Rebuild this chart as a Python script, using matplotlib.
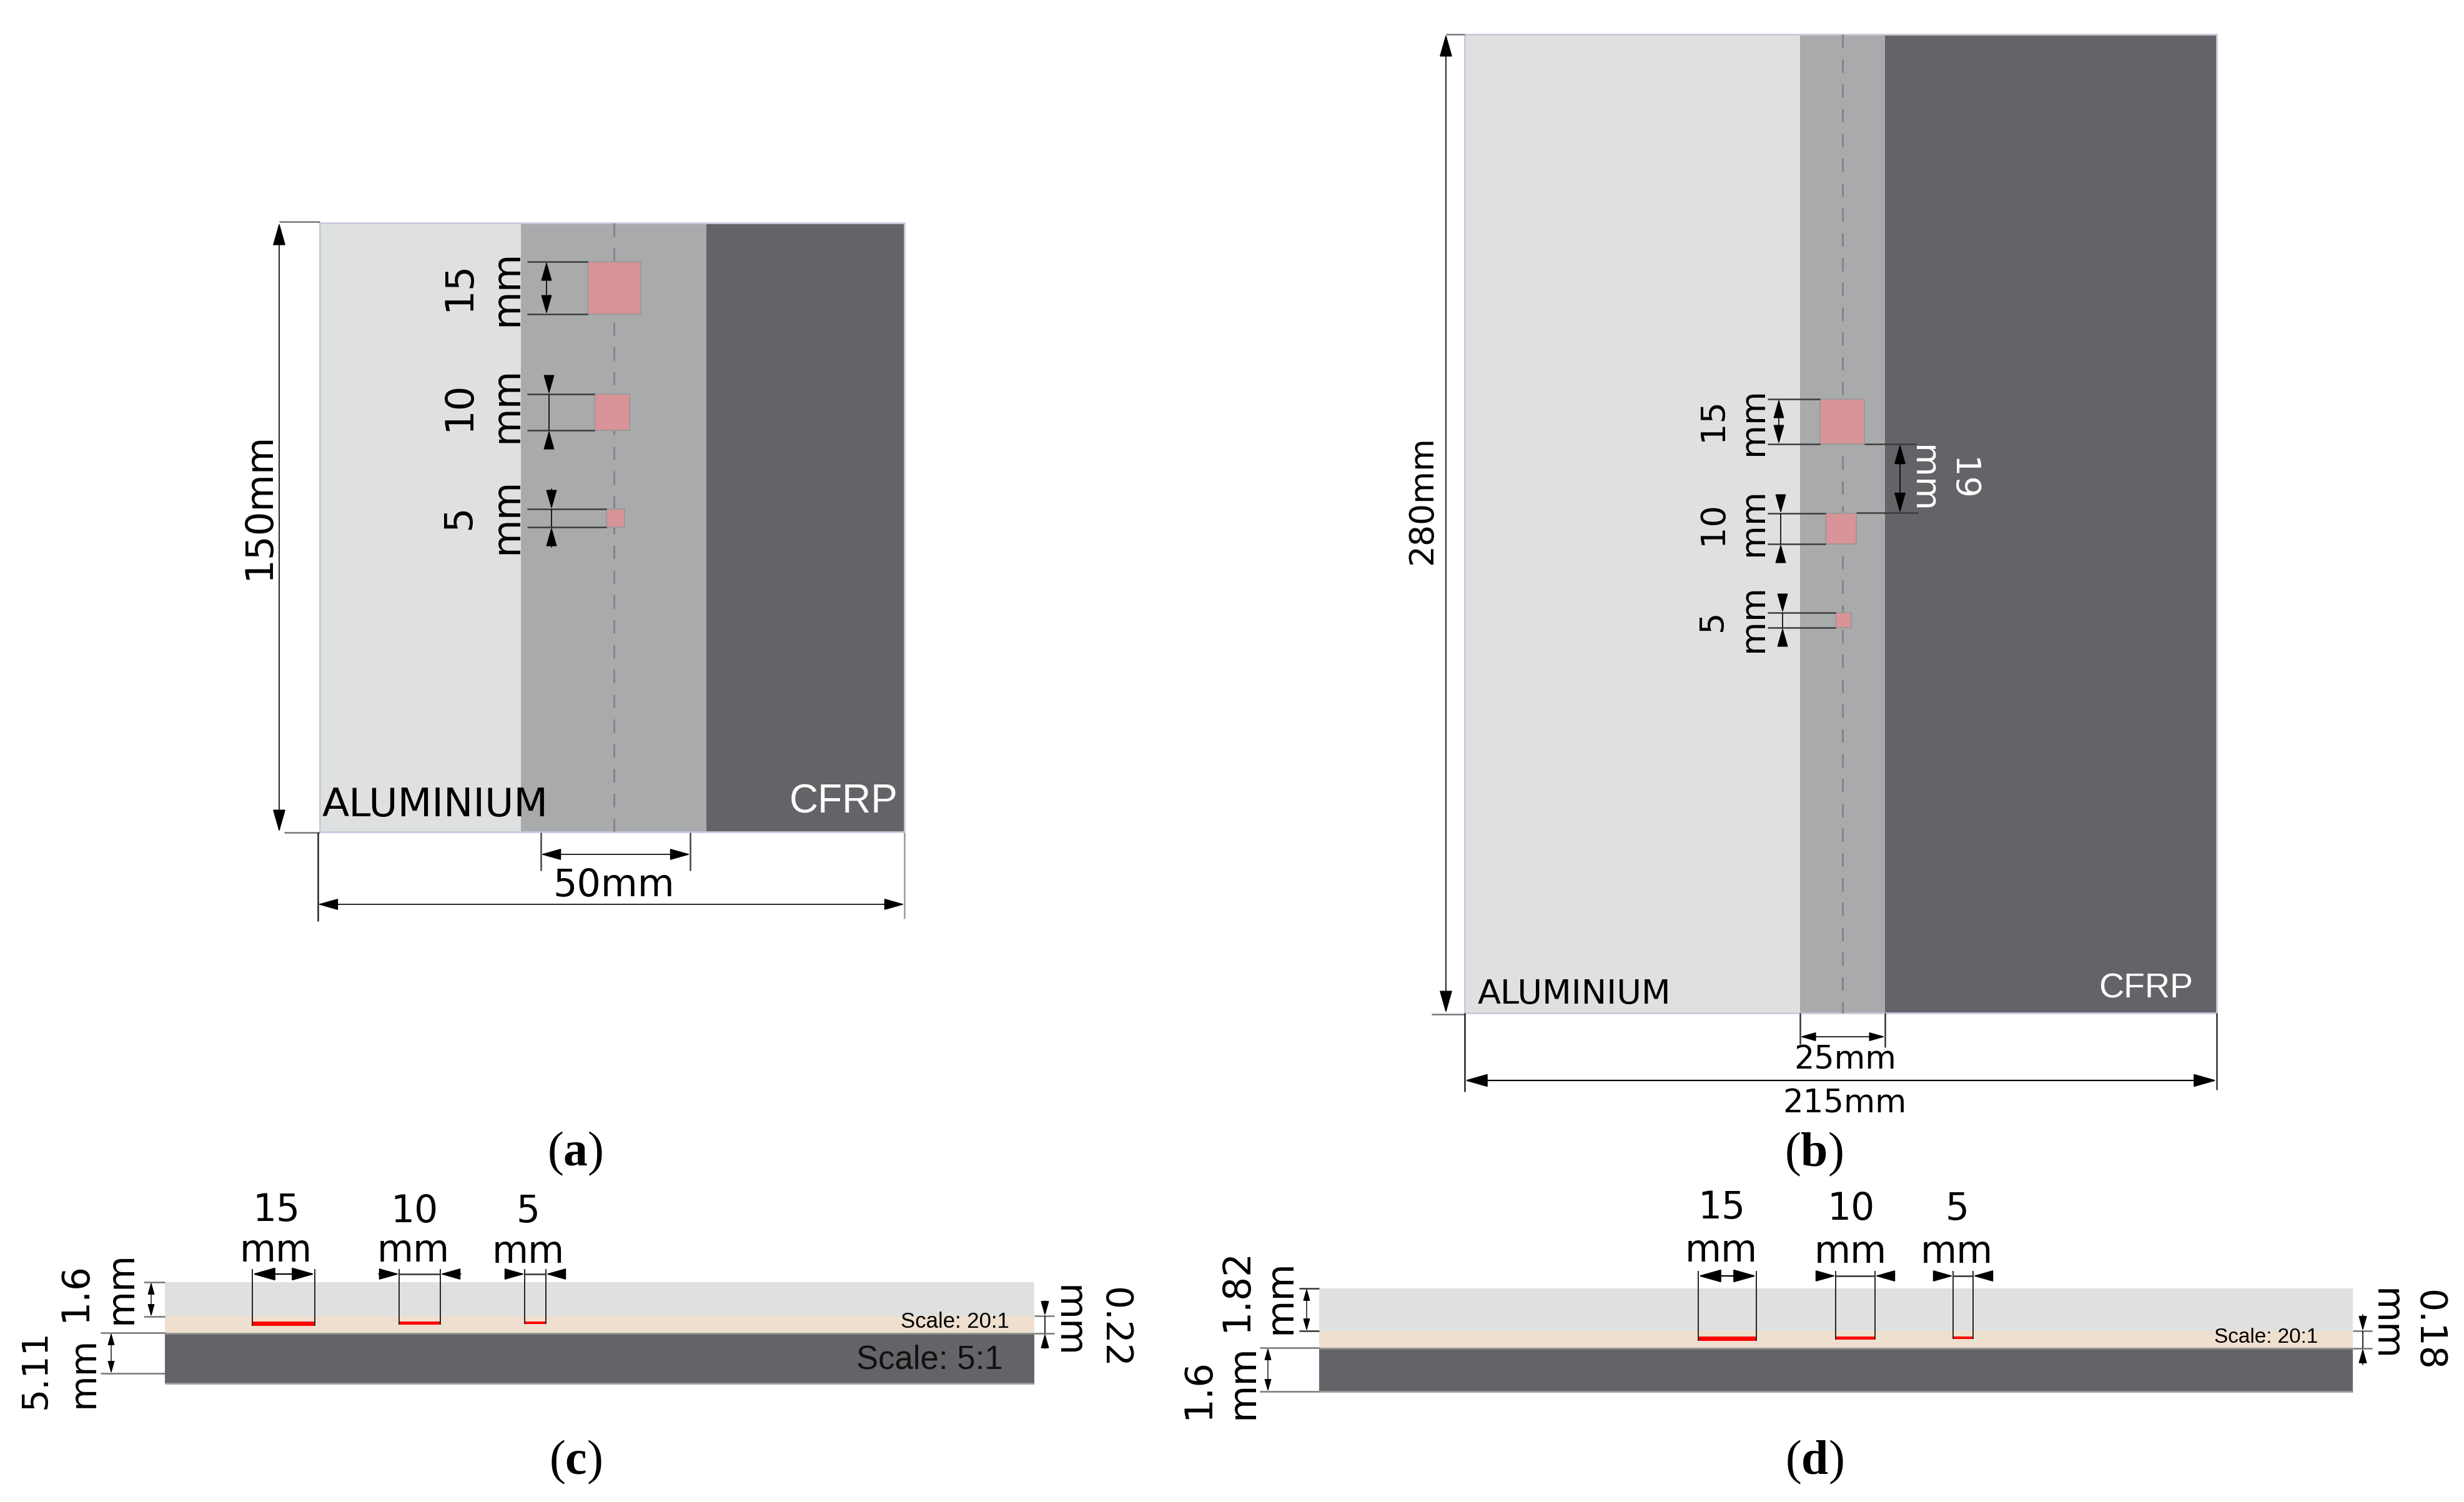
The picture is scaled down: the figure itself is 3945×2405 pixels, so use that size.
import matplotlib
matplotlib.use("Agg")
import matplotlib.pyplot as plt
from matplotlib.patches import Rectangle

AL = "#dfe1e0"
BOND = "#a9aaac"
CFRP = "#636467"
ADH = "#efdfcf"
SQUARE = "#d89498"
EDGE = "#c9c9de"
BOTH = "<|-|>,head_length=0.6,head_width=0.17"
ONE = "-|>,head_length=0.6,head_width=0.17"

# layer edges in pixels (x: aluminium, bond start, bond end, right)
a_edges = [512, 834, 1131, 1448]
a_span = [357, 1332]
a_squares = [(941, 419, 1026, 503), (952, 631, 1008, 689), (971, 815, 1000, 844)]
a_arrow_x = [875, 879, 883]
a_tick_x = 844
b_edges = [2345, 2882, 3018, 3549]
b_span = [55, 1622]
b_squares = [(2914, 639, 2985, 711), (2923, 822, 2972, 871), (2939, 981, 2964, 1005)]
b_arrow_x = [2848, 2851, 2854]
b_tick_x = 2830

size_labels = ["15", "10", "5"]
a_label_y = [458, 650, 828]
a_mm_y = [461, 648, 826]
b_label_y = [671, 838, 994]
b_mm_y = [675, 836, 990]

# cross sections: left, right, aluminium top, aluminium bottom, adhesive bottom, cfrp bottom
c_layers = [264, 1656, 2053, 2107, 2135, 2215]
d_layers = [2112, 3767, 2063, 2131, 2159, 2228]
c_notches = [(404, 504), (639, 705), (840, 874)]
d_notches = [(2719, 2812), (2939, 3002), (3127, 3159)]
c_notch_y = [2040, 2116, 2123, 2121, 2120]
d_notch_y = [2043, 2140, 2147, 2145, 2144]
c_label_pos = [(442, 1938, 442, 2003), (664, 1940, 662, 2004), (845, 1940, 846, 2006)]
d_label_pos = [(2756, 1934, 2756, 2004), (2963, 1936, 2963, 2005), (3133, 1937, 3133, 2006)]

panel_letters = ["a", "b", "c", "d"]
panel_x = [921, 2904, 921, 2905]
panel_y = [1847, 1848, 2341, 2341]

plt.rcParams["mathtext.fontset"] = "custom"
plt.rcParams["mathtext.bf"] = "Liberation Serif:bold"
plt.rcParams["mathtext.rm"] = "Liberation Serif"

fig = plt.figure(figsize=(39.45, 24.05), dpi=100, facecolor="white")
ax = fig.add_axes([0, 0, 1, 1])
ax.set_xlim(0, 3945)
ax.set_ylim(2405, 0)
ax.axis("off")


def band(x0, x1, y0, y1, color, z=1, edge="none"):
    ax.add_patch(Rectangle((x0, y0), x1 - x0, y1 - y0, facecolor=color, edgecolor=edge, lw=1.5, zorder=z))


def line(x0, y0, x1, y1, color="#3c3c3c", lw=1.8, z=4):
    ax.plot([x0, x1], [y0, y1], color=color, lw=lw, zorder=z, solid_capstyle="butt")


def arrow(x0, y0, x1, y1, style=ONE, size=30, lw=1.2, color="black"):
    # from (x0, y0) to the tip at (x1, y1)
    ax.annotate("", xy=(x1, y1), xytext=(x0, y0), zorder=5,
                arrowprops=dict(arrowstyle=style, mutation_scale=size, lw=lw, color=color,
                                shrinkA=0, shrinkB=0))


def label(x, y, s, size=38, rot=0, color="black", family="DejaVu Sans", z=6):
    ax.text(x, y, s, fontsize=size, rotation=rot, color=color, family=family,
            ha="center", va="center", zorder=z)


def outer_arrows_y(x, y0, y1, reach, size=30):
    line(x, y0, x, y1, color="black", lw=1.2)
    arrow(x, y0 - reach, x, y0, size=size)
    arrow(x, y1 + reach, x, y1, size=size)


def outer_arrows_x(y, x0, x1, reach, size=30):
    line(x0, y, x1, y, color="#333333")
    arrow(x0 - reach, y, x0, y, size=size)
    arrow(x1 + reach, y, x1, y, size=size)


def plan_view(edges, span, squares, arrow_x, tick_x, reach, size):
    top, bottom = span
    band(edges[0], edges[1], top, bottom, AL)
    band(edges[1], edges[2], top, bottom, BOND)
    band(edges[2], edges[3], top, bottom, CFRP)
    ax.plot([edges[0], edges[3], edges[3], edges[0], edges[0]], [top, top, bottom, bottom, top],
            color=EDGE, lw=2, zorder=2)
    centre = (edges[1] + edges[2]) / 2
    ax.plot([centre, centre], [top, bottom], color="#85868a", lw=2.2, dashes=(7, 6), zorder=2)
    for i, (x0, y0, x1, y1) in enumerate(squares):
        band(x0, x1, y0, y1, SQUARE, z=3, edge="#a0989a")
        line(tick_x, y0, x0, y0)
        line(tick_x, y1, x0, y1)
        if i == 0:
            arrow(arrow_x[i], y0, arrow_x[i], y1, style=BOTH, size=size)
        else:
            outer_arrows_y(arrow_x[i], y0, y1, reach[i], size=size)


def section(layers, notches, notch_y, label_pos, reach, size=43):
    left, right, al_top, al_bot, adh_bot, cf_bot = layers
    band(left, right, al_top, al_bot, AL)
    band(left, right, al_bot, adh_bot, ADH)
    band(left, right, adh_bot, cf_bot, CFRP)
    line(left, adh_bot, right, adh_bot, color="#8f9092", lw=2, z=2)
    line(left, cf_bot, right, cf_bot, color="#9a9b9d", lw=2, z=2)
    tick_top, red_top = notch_y[0], notch_y[1]
    for i, (x0, x1) in enumerate(notches):
        red_bot = notch_y[2 + i]
        band(x0, x1, red_top, red_bot, "#ff0000", z=3)
        line(x0, tick_top - 8, x0, red_bot, color="#222222", lw=1.4)
        line(x1, tick_top - 8, x1, red_bot, color="#222222", lw=1.4)
        if i == 0:
            arrow(x0, tick_top, x1, tick_top, style=BOTH, size=38, lw=1.6)
        else:
            outer_arrows_x(tick_top, x0, x1, reach[i], size=34)
        label(label_pos[i][0], label_pos[i][1], size_labels[i], size=size)
        label(label_pos[i][2], label_pos[i][3], "mm", size=size)


# panel a
plan_view(a_edges, a_span, a_squares, a_arrow_x, a_tick_x, [0, 24, 32], 32)
for yl, ym, s in zip(a_label_y, a_mm_y, size_labels):
    label(735, yl, s, size=45, rot=90)
    label(811, ym, "mm", size=45, rot=90)
arrow(447, 357, 447, 1332, style=BOTH, size=38)
line(447, 355, 512, 355, color="#777777")
line(455, 1333, 512, 1333, color="#777777")
label(415, 810, "150mm", size=44, rot=90)
ax.text(516, 1307, "ALUMINIUM", fontsize=45.5, family="DejaVu Sans", ha="left", va="baseline", zorder=6)
ax.text(1438, 1302, "CFRP", fontsize=46, family="Liberation Sans", color="white", ha="right", va="baseline", zorder=6)
line(866, 1333, 866, 1394, color="#444444")
line(1105, 1333, 1105, 1394, color="#444444")
arrow(866, 1368, 1105, 1368, style=BOTH, size=34)
label(983, 1418, "50mm", size=43.5)
line(509, 1333, 509, 1475, color="#222222")
line(1448, 1333, 1448, 1471, color="#999999")
arrow(509, 1448, 1448, 1448, style=BOTH, size=34)

# panel b
plan_view(b_edges, b_span, b_squares, b_arrow_x, b_tick_x, [0, 22, 26], 32)
for yl, ym, s in zip(b_label_y, b_mm_y, size_labels):
    label(2742, yl, s, size=39, rot=90)
    label(2807, ym, "mm", size=40, rot=90)
line(2985, 711, 3068, 711)
line(2972, 821, 3071, 821)
arrow(3042, 711, 3042, 821, style=BOTH, size=34)
label(3141, 767, "19", size=39, rot=270, color="white")
label(3078, 767, "mm", size=40, rot=270, color="white")
arrow(2315, 55, 2315, 1622, style=BOTH, size=38)
line(2315, 55, 2345, 55, color="#777777")
line(2292, 1624, 2345, 1624, color="#777777")
label(2277, 801, "280mm", size=38.5, rot=90)
ax.text(2366, 1607, "ALUMINIUM", fontsize=39, family="DejaVu Sans", ha="left", va="baseline", zorder=6)
ax.text(3511, 1597, "CFRP", fontsize=40, family="Liberation Sans", color="white", ha="right", va="baseline", zorder=6)
line(2882, 1622, 2882, 1672, color="#333333")
line(3018, 1622, 3018, 1677, color="#333333")
arrow(2882, 1660, 3018, 1660, style=BOTH, size=26)
label(2954, 1698, "25mm", size=36.5)
line(2345, 1622, 2345, 1748, color="#222222")
line(3549, 1622, 3549, 1745, color="#333333")
arrow(2345, 1730, 3549, 1730, style=BOTH, size=38, lw=1.6)
label(2953, 1767, "215mm", size=37)

# panel c
section(c_layers, c_notches, c_notch_y, c_label_pos, [0, 33, 30])
line(230, 2053, 264, 2053, color="#777777")
line(230, 2108, 264, 2108, color="#777777")
arrow(242, 2053, 242, 2108, style=BOTH, size=20, lw=1)
label(121, 2069, "1.6", size=43, rot=90)
label(194, 2062, "mm", size=43, rot=90)
line(161, 2134, 264, 2134, color="#777777")
line(161, 2199, 264, 2199, color="#777777")
arrow(178, 2134, 178, 2199, style=BOTH, size=20, lw=1)
label(58, 2193, "5.11", size=41, rot=90)
label(133, 2197, "mm", size=42, rot=90)
line(1656, 2107, 1688, 2107, color="#777777")
line(1656, 2135, 1688, 2135, color="#777777")
outer_arrows_y(1673, 2107, 2135, 24, size=24)
label(1784, 2126, "0.22", size=42, rot=270)
label(1709, 2116, "mm", size=43, rot=270)
label(1529, 2117, "Scale: 20:1", size=25, family="Liberation Sans")
label(1488, 2178, "Scale: 5:1", size=38, family="Liberation Sans", color="#111111")

# panel d
section(d_layers, d_notches, d_notch_y, d_label_pos, [0, 27, 25])
line(2080, 2063, 2112, 2063, color="#333333")
line(2080, 2131, 2112, 2131, color="#333333")
arrow(2092, 2063, 2092, 2131, style=BOTH, size=20, lw=1)
label(1980, 2065, "1.82", size=43, rot=90)
label(2050, 2077, "mm", size=44, rot=90)
line(2017, 2158, 2112, 2158, color="#777777")
line(2017, 2228, 2112, 2228, color="#777777")
arrow(2030, 2158, 2030, 2228, style=BOTH, size=20, lw=1)
label(1919, 2223, "1.6", size=44, rot=90)
label(1990, 2213, "mm", size=44, rot=90)
line(3767, 2131, 3798, 2131, color="#777777")
line(3767, 2159, 3798, 2159, color="#777777")
outer_arrows_y(3783, 2131, 2159, 26, size=24)
label(3888, 2130, "0.18", size=42, rot=270)
label(3818, 2121, "mm", size=43, rot=270)
label(3628, 2141, "Scale: 20:1", size=24, family="Liberation Sans")

for letter, x, y in zip(panel_letters, panel_x, panel_y):
    label(x, y, "($\\mathbf{" + letter + "}$)", size=56, family="Liberation Serif")

fig.savefig("out.png", dpi=100)
